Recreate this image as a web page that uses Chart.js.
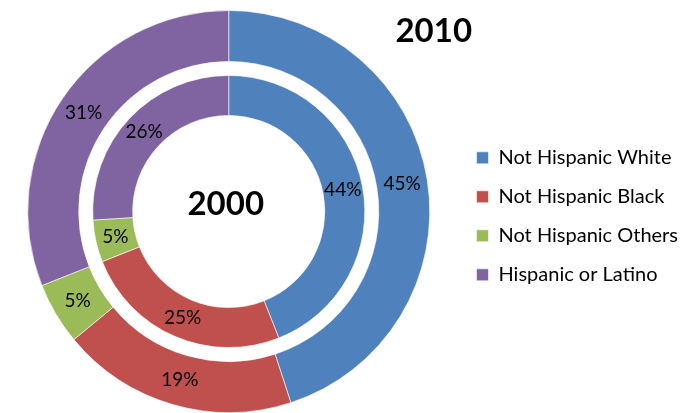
<!DOCTYPE html>
<html>
<head>
<meta charset="utf-8">
<script src="https://cdn.jsdelivr.net/npm/chart.js@4.4.0/dist/chart.umd.min.js"></script>
<style>
  html, body { margin: 0; padding: 0; background: #fff; }
  #wrap { width: 696px; height: 413px; position: relative; }
</style>
</head>
<body>
<div id="wrap"><canvas id="chart"></canvas></div>
<script>
const groups = ["Not Hispanic White", "Not Hispanic Black", "Not Hispanic Others", "Hispanic or Latino"];
const share2010 = [45, 19, 5, 31];
const share2000 = [44, 25, 5, 26];
const colors = ["#4F81BD", "#C0504D", "#9BBB59", "#8064A2"];
const outerYear = "2010";
const innerYear = "2000";

// percent text in the middle of every slice
const sliceLabels = {
  id: "sliceLabels",
  afterDatasetsDraw(chart) {
    const ctx = chart.ctx;
    ctx.save();
    ctx.font = "19px Lato";
    ctx.fillStyle = "#000";
    ctx.textAlign = "center";
    ctx.textBaseline = "middle";
    chart.data.datasets.forEach((ds, i) => {
      if (!ds.showValues) return;
      chart.getDatasetMeta(i).data.forEach((arc, j) => {
        const p = arc.tooltipPosition();
        ctx.fillText(ds.data[j] + "%", p.x, p.y);
      });
    });
    ctx.restore();
  }
};

// year captions: inner year in the hole, outer year top right
const yearLabels = {
  id: "yearLabels",
  afterDraw(chart) {
    const arc = chart.getDatasetMeta(0).data[0];
    const ctx = chart.ctx;
    ctx.save();
    ctx.font = "bold 33px Lato";
    ctx.fillStyle = "#000";
    ctx.textAlign = "center";
    ctx.textBaseline = "alphabetic";
    ctx.fillText(innerYear, arc.x - 3, arc.y + 3);
    ctx.fillText(outerYear, arc.x + 205, 42);
    ctx.restore();
  }
};

new Chart(document.getElementById("chart"), {
  type: "doughnut",
  data: {
    labels: groups,
    datasets: [
      {
        label: outerYear,
        data: share2010,
        backgroundColor: colors,
        borderColor: "rgba(255,255,255,0.6)",
        borderWidth: 1,
        weight: 51,
        showValues: true
      },
      {
        // white gap between the two rings
        label: "",
        data: [1],
        backgroundColor: "rgba(0,0,0,0)",
        borderWidth: 0,
        weight: 14,
        showValues: false
      },
      {
        label: innerYear,
        data: share2000,
        backgroundColor: colors,
        borderColor: "rgba(255,255,255,0.6)",
        borderWidth: 1,
        weight: 40,
        showValues: true
      }
    ]
  },
  options: {
    responsive: true,
    maintainAspectRatio: false,
    animation: false,
    events: [],
    cutout: "47.8%",
    layout: { padding: { left: -18, top: 10, right: 8, bottom: 0 } },
    plugins: {
      tooltip: { enabled: false },
      legend: {
        position: "right",
        // empty title just nudges the entries down a little
        title: { display: true, text: "", font: { size: 8 }, padding: 0 },
        labels: {
          color: "#000",
          font: { family: "Lato", size: 20 },
          boxWidth: 12,
          boxHeight: 12,
          padding: 19
        }
      }
    }
  },
  plugins: [sliceLabels, yearLabels]
});
</script>
</body>
</html>
